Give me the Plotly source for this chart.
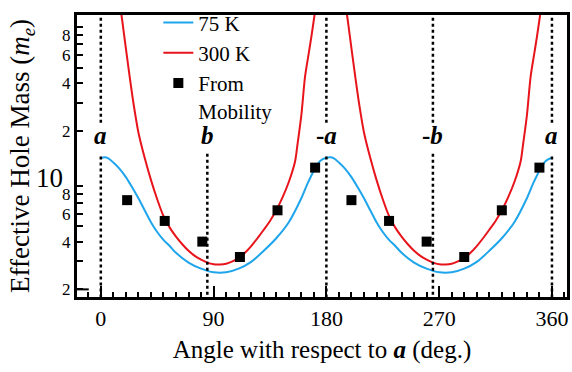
import plotly.graph_objects as go
import math

# ---- data ----
angle_75K = [0, 3, 6, 10, 15, 20, 25, 30, 35, 40, 45, 50, 55, 60, 70, 80, 90, 100, 110, 120, 130, 140, 150, 160, 165, 170, 175, 180,
             183, 186, 190, 195, 200, 205, 210, 215, 220, 225, 230, 235, 240, 250, 260, 270, 280, 290, 300, 310, 320, 330, 340, 345, 350, 355, 360]
mass_75K = [13.4, 13.6, 13.4, 12.6, 11.5, 10.2, 8.8, 7.5, 6.3, 5.3, 4.6, 4.1, 3.75, 3.4, 2.95, 2.7, 2.56, 2.56, 2.7, 2.98, 3.5, 4.2, 5.3, 7.5, 9.3, 11.2, 12.9, 13.5,
            13.6, 13.4, 12.6, 11.5, 10.2, 8.8, 7.5, 6.3, 5.3, 4.6, 4.1, 3.75, 3.4, 2.95, 2.7, 2.56, 2.56, 2.7, 2.98, 3.5, 4.2, 5.3, 7.5, 9.3, 11.2, 12.9, 13.5]

angle_300K_1 = [15, 17, 20, 23, 26, 30, 35, 40, 45, 50, 55, 60, 65, 70, 75, 80, 85, 90, 95, 100, 105, 110, 115, 120, 125, 130, 135, 140, 145, 150, 155, 157, 160, 163, 166, 168, 170, 172]
mass_300K_1 = [130, 100, 66, 44, 30, 19.5, 13.5, 9.8, 7.4, 5.8, 4.9, 4.3, 3.85, 3.5, 3.25, 3.08, 2.95, 2.88, 2.87, 2.9, 3.0, 3.15, 3.4, 3.75, 4.2, 4.75, 5.4, 6.3, 7.6, 9.5, 12.8, 16.5, 25, 44, 62, 78, 100, 128]
angle_300K_2 = [195, 197, 200, 203, 206, 210, 215, 220, 225, 230, 235, 240, 245, 250, 255, 260, 265, 270, 275, 280, 285, 290, 295, 300, 305, 310, 315, 320, 325, 330, 335, 337, 340, 343, 346, 348, 350, 352]
mass_300K_2 = [130, 100, 66, 44, 30, 19.5, 13.5, 9.8, 7.4, 5.8, 4.9, 4.3, 3.85, 3.5, 3.25, 3.08, 2.95, 2.88, 2.87, 2.9, 3.0, 3.15, 3.4, 3.75, 4.2, 4.75, 5.4, 6.3, 7.6, 9.5, 12.8, 16.5, 25, 44, 62, 78, 100, 128]

angle_mob = [21, 51, 81, 111, 141, 171, 200, 230, 260, 290, 320, 350]
mass_mob = [7.3, 5.4, 4.0, 3.2, 6.3, 11.7, 7.3, 5.4, 4.0, 3.2, 6.3, 11.7]

axis_angles = [0, 85, 180, 265, 360]
axis_names = ["<b><i>a</i></b>", "<b><i>b</i></b>", "<b>-<i>a</i></b>", "<b>-<i>b</i></b>", "<b><i>a</i></b>"]
axis_top_segment = [True, False, True, True, True]
axis_is_b = [False, True, False, True, False]

xtick_vals = [0, 90, 180, 270, 360]
xtick_text = ["0", "90", "180", "270", "360"]
ytick_vals = [2, 4, 6, 8, 20, 40, 60, 80]
ytick_text = ["2", "4", "6", "8", "2", "4", "6", "8"]
ydecade_vals = [10, 100]
ydecade_text = ["10", None]
yminor_vals = [3, 5, 7, 9, 30, 50, 70, 90]

SERIF = "Liberation Serif"
BLUE = "#1ea5ec"
RED = "#e8141b"

fig = go.Figure()
fig.add_trace(go.Scatter(x=angle_75K, y=mass_75K, mode="lines", name="75 K",
                         line=dict(color=BLUE, width=2, shape="spline", smoothing=0.8)))
fig.add_trace(go.Scatter(x=angle_300K_1 + [None] + angle_300K_2,
                         y=mass_300K_1 + [None] + mass_300K_2, mode="lines", name="300 K",
                         line=dict(color=RED, width=2, shape="spline", smoothing=0.8),
                         connectgaps=False))
fig.add_trace(go.Scatter(x=angle_mob, y=mass_mob, mode="markers", name="From<br>Mobility",
                         marker=dict(symbol="square", size=10, color="black")))

shapes = []
annotations = []
for ang, name, top, isb in zip(axis_angles, axis_names, axis_top_segment, axis_is_b):
    if top:
        shapes.append(dict(type="line", xref="x", yref="paper", x0=ang, x1=ang, y0=0.99, y1=0.612,
                           line=dict(color="black", width=2.5, dash="dot")))
    y0 = 0.508 if isb else 0.498
    shapes.append(dict(type="line", xref="x", yref="paper", x0=ang, x1=ang, y0=y0, y1=0.0,
                       line=dict(color="black", width=2.5, dash="dot")))
    annotations.append(dict(x=ang, y=0.574, xref="x", yref="paper", text=name, showarrow=False,
                            xanchor="center", yanchor="middle",
                            font=dict(family=SERIF, size=25, color="black")))

# long ticks at decades and the "10" label
for v, t in zip(ydecade_vals, ydecade_text):
    shapes.append(dict(type="line", xref="paper", yref="y", x0=0, x1=0.024,
                       y0=math.log10(v), y1=math.log10(v), line=dict(color="black", width=2)))
    if t:
        annotations.append(dict(x=-0.056, y=math.log10(v), xref="paper", yref="y", text=t,
                                showarrow=False, xanchor="center", yanchor="middle",
                                font=dict(family=SERIF, size=27, color="black")))

fig.update_layout(
    width=572, height=372,
    margin=dict(l=77, r=2, t=2, b=75),
    paper_bgcolor="white", plot_bgcolor="white",
    font=dict(family=SERIF, color="black"),
    showlegend=True,
    legend=dict(x=0.166, y=1.045, xanchor="left", yanchor="top", bgcolor="rgba(0,0,0,0)",
                font=dict(family=SERIF, size=21, color="black"), valign="top",
                tracegroupgap=0, itemwidth=30),
    shapes=shapes, annotations=annotations,
    xaxis=dict(range=[-19, 372], tickmode="array", tickvals=xtick_vals, ticktext=xtick_text,
               ticks="inside", ticklen=11, tickwidth=2, tickcolor="black",
               showline=True, linecolor="black", linewidth=3, mirror=True,
               showgrid=False, zeroline=False,
               tickfont=dict(family=SERIF, size=22, color="black"),
               minor=dict(tick0=0, dtick=10, ticks="inside", ticklen=5, tickwidth=2, tickcolor="black", showgrid=False),
               title=dict(text="Angle with respect to <b><i>a</i></b> (deg.)",
                          font=dict(family=SERIF, size=25, color="black"), standoff=11)),
    yaxis=dict(type="log", range=[0.253, 2.03], tickmode="array", tickvals=ytick_vals, ticktext=ytick_text,
               ticks="inside", ticklen=6, tickwidth=2, tickcolor="black",
               showline=True, linecolor="black", linewidth=3, mirror=True,
               showgrid=False, zeroline=False,
               tickfont=dict(family=SERIF, size=17, color="black"),
               minor=dict(tickmode="array", tickvals=yminor_vals, ticks="inside", ticklen=6, tickwidth=2,
                          tickcolor="black", showgrid=False),
               title=dict(text="Effective Hole Mass (<i>m</i><sub><i>e</i></sub>)",
                          font=dict(family=SERIF, size=27, color="black"), standoff=25)),
)

fig.write_html("out.html")
